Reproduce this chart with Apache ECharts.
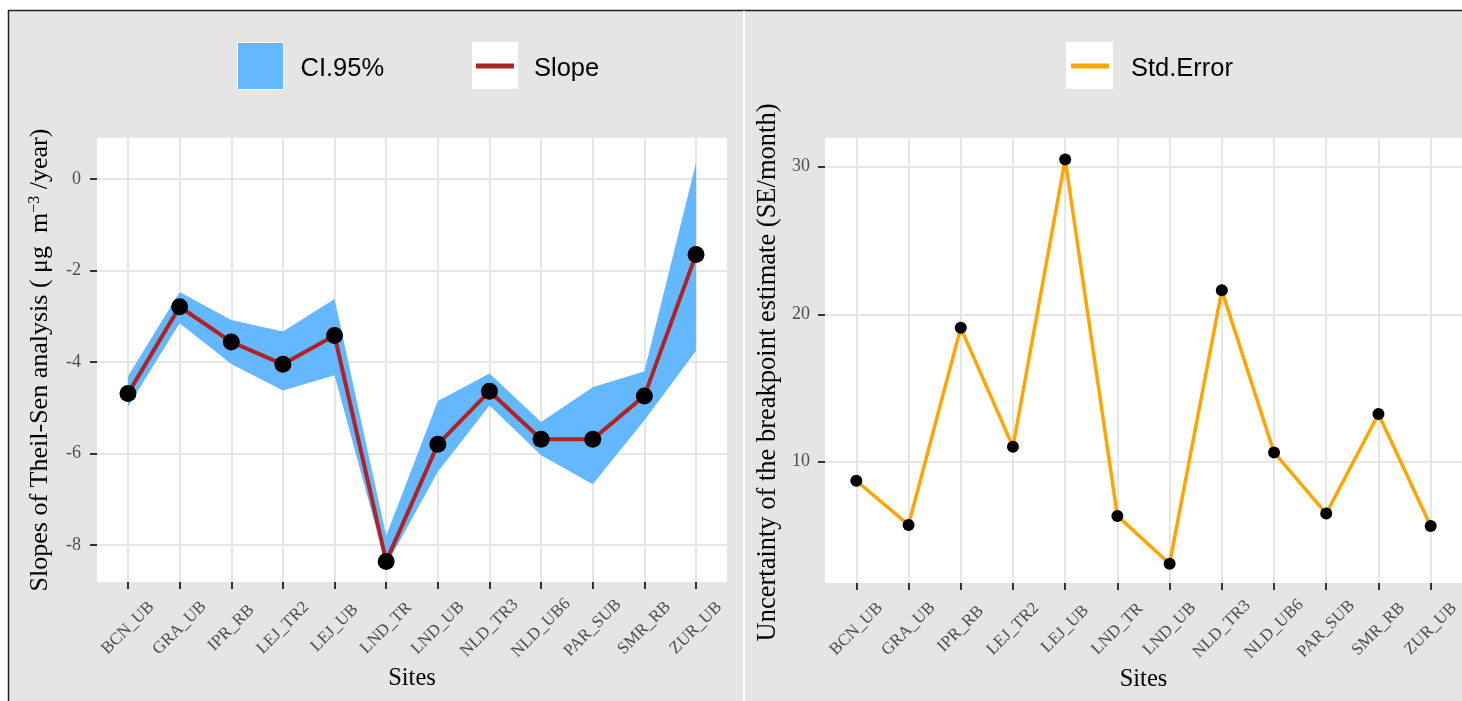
<!DOCTYPE html>
<html>
<head>
<meta charset="utf-8">
<title>Theil-Sen slopes and breakpoint uncertainty by site</title>
<script src="https://cdn.jsdelivr.net/npm/echarts@6/dist/echarts.min.js"></script>
<style>
  html, body { margin: 0; padding: 0; background: #fff; }
  #chart { width: 1462px; height: 701px; }
</style>
</head>
<body>
<div id="chart"></div>
<script>
// Monitoring sites (shared x categories for both panels)
const sites = ['BCN_UB', 'GRA_UB', 'IPR_RB', 'LEJ_TR2', 'LEJ_UB', 'LND_TR',
               'LND_UB', 'NLD_TR3', 'NLD_UB6', 'PAR_SUB', 'SMR_RB', 'ZUR_UB'];

// Theil-Sen slope per site (µg m-3 / year) and its 95% confidence interval
const slope   = [-4.69, -2.79, -3.56, -4.05, -3.42, -8.36, -5.80, -4.64, -5.69, -5.69, -4.74, -1.65];
const ciLower = [-4.98, -3.15, -4.04, -4.62, -4.29, -8.45, -6.40, -4.95, -6.04, -6.67, -5.27, -3.75];
const ciUpper = [-4.31, -2.47, -3.08, -3.33, -2.62, -7.80, -4.85, -4.25, -5.31, -4.55, -4.20,  0.36];

// Standard error of the breakpoint estimate (SE / month)
const stdError = [8.71, 5.72, 19.08, 11.02, 30.50, 6.33, 3.09, 21.62, 10.63, 6.49, 13.24, 5.65];

// Tick values
const siteTicks = sites.map((_, i) => i);
const slopeTicks = [-8, -6, -4, -2, 0];
const seTicks = [10, 20, 30];

const SERIF = "'Liberation Serif', 'Times New Roman', serif";
const SANS = "'Liberation Sans', Arial, sans-serif";
const GRID_COLOR = '#e6e6e6';
const TICK_COLOR = '#333333';
const LABEL_COLOR = '#4d4d4d';

const slopePoints = slope.map((v, i) => [i, v]);
const bandPoints = sites.map((_, i) => [i, ciLower[i], ciUpper[i]]);
const sePoints = stdError.map((v, i) => [i, v]);

function siteAxis(gridIndex) {
  return {
    type: 'value',
    gridIndex: gridIndex,
    min: -0.6,
    max: sites.length - 1 + 0.6,
    name: 'Sites',
    nameLocation: 'middle',
    nameGap: 84,
    nameMoveOverlap: false,
    nameTextStyle: { fontFamily: SERIF, fontSize: 24.5, color: '#000' },
    axisLine: { show: false, onZero: false },
    axisTick: { show: true, length: 7, customValues: siteTicks,
                lineStyle: { color: TICK_COLOR, width: 2 } },
    axisLabel: { customValues: siteTicks, rotate: 45, margin: 46,
                 align: 'center', verticalAlign: 'middle',
                 fontFamily: SERIF, fontSize: 17, color: LABEL_COLOR,
                 formatter: v => sites[Math.round(v)] },
    splitLine: { show: true, lineStyle: { color: GRID_COLOR, width: 2 } }
  };
}

// Confidence band drawn as one polygon through the upper then lower bounds
function renderBand(params, api) {
  if (params.dataIndex !== 0) return null;
  const upper = [], lower = [];
  for (let i = 0; i < bandPoints.length; i++) {
    upper.push(api.coord([bandPoints[i][0], bandPoints[i][2]]));
    lower.push(api.coord([bandPoints[i][0], bandPoints[i][1]]));
  }
  return {
    type: 'polygon',
    shape: { points: upper.concat(lower.reverse()) },
    style: { fill: '#63B8FF', stroke: null }
  };
}

// Legend label: a rich token with extra top padding to sit the caps on the key centre
const legendText = (padLeft) => ({
  padding: [0, 0, 0, padLeft],
  rich: { k: { fontFamily: SANS, fontSize: 25.5, color: '#000', padding: [6, 0, 0, 0] } }
});
const legendFormat = name => '{k|' + name + '}';

const option = {
  backgroundColor: '#e5e5e5',
  animation: false,
  graphic: {
    elements: [
      { type: 'rect', z: 0, shape: { x: 0, y: 0, width: 1462, height: 10 }, style: { fill: '#fff' } },
      { type: 'rect', z: 0, shape: { x: 0, y: 0, width: 8, height: 701 }, style: { fill: '#fff' } },
      { type: 'line', z: 0, shape: { x1: 8, y1: 10.5, x2: 1462, y2: 10.5 }, style: { stroke: '#222', lineWidth: 1.5 } },
      { type: 'line', z: 0, shape: { x1: 8.5, y1: 10, x2: 8.5, y2: 701 }, style: { stroke: '#222', lineWidth: 1.5 } },
      { type: 'rect', z: 0, shape: { x: 743, y: 11, width: 2, height: 690 }, style: { fill: '#fff' } },
      // white key backgrounds for the line legends
      { type: 'rect', z: 0, shape: { x: 472, y: 42, width: 46, height: 47 }, style: { fill: '#fff' } },
      { type: 'rect', z: 0, shape: { x: 1066, y: 42, width: 47, height: 47 }, style: { fill: '#fff' } }
    ]
  },
  legend: [
    {
      z: 10, left: 237, top: 42, padding: 0, itemWidth: 46, itemHeight: 47,
      selectedMode: false, formatter: legendFormat,
      data: [{ name: 'CI.95%', icon: 'rect',
               itemStyle: { color: '#63B8FF', borderColor: '#ffffff', borderWidth: 1 } }],
      textStyle: legendText(12)
    },
    {
      z: 10, left: 476, top: 56, padding: 0, itemWidth: 38, itemHeight: 5,
      selectedMode: false, formatter: legendFormat,
      data: [{ name: 'Slope', icon: 'rect', itemStyle: { color: '#B22222' } }],
      textStyle: legendText(15)
    },
    {
      z: 10, left: 1071, top: 56, padding: 0, itemWidth: 38, itemHeight: 5,
      selectedMode: false, formatter: legendFormat,
      data: [{ name: 'Std.Error', icon: 'rect', itemStyle: { color: '#FFA500' } }],
      textStyle: legendText(17)
    }
  ],
  grid: [
    { left: 97, right: 735, top: 138, bottom: 119, show: true, backgroundColor: '#ffffff',
      borderWidth: 0, outerBoundsMode: 'none', containLabel: false },
    { left: 825, right: 0, top: 138, bottom: 118, show: true, backgroundColor: '#ffffff',
      borderWidth: 0, outerBoundsMode: 'none', containLabel: false }
  ],
  xAxis: [siteAxis(0), siteAxis(1)],
  yAxis: [
    {
      type: 'value', gridIndex: 0, min: -8.81, max: 0.9,
      name: '{t|Slopes of Theil-Sen analysis ( μg  m}{sup|−3}{t| /year)}',
      nameLocation: 'middle', nameGap: 44, nameRotate: 90, nameMoveOverlap: false,
      nameTextStyle: {
        color: '#000',
        rich: {
          t: { fontFamily: SERIF, fontSize: 26, color: '#000' },
          sup: { fontFamily: SERIF, fontSize: 16, color: '#000', verticalAlign: 'top' }
        }
      },
      axisLine: { show: false, onZero: false },
      axisTick: { show: true, length: 7, customValues: slopeTicks,
                  lineStyle: { color: TICK_COLOR, width: 2 } },
      axisLabel: { customValues: slopeTicks, margin: 16, fontFamily: SERIF, fontSize: 18,
                   color: LABEL_COLOR, formatter: v => String(v) },
      splitLine: { show: true, lineStyle: { color: GRID_COLOR, width: 2 } }
    },
    {
      type: 'value', gridIndex: 1, min: 1.78, max: 31.95,
      name: 'Uncertainty of the breakpoint estimate (SE/month)',
      nameLocation: 'middle', nameGap: 43, nameRotate: 90, nameMoveOverlap: false,
      nameTextStyle: { fontFamily: SERIF, fontSize: 26.5, color: '#000', padding: [0, 24, 0, 0] },
      axisLine: { show: false, onZero: false },
      axisTick: { show: true, length: 7, customValues: seTicks,
                  lineStyle: { color: TICK_COLOR, width: 2 } },
      axisLabel: { customValues: seTicks, margin: 15, fontFamily: SERIF, fontSize: 18,
                   color: LABEL_COLOR, formatter: v => String(v) },
      splitLine: { show: true, lineStyle: { color: GRID_COLOR, width: 2 } }
    }
  ],
  series: [
    {
      name: 'CI.95%', type: 'custom', xAxisIndex: 0, yAxisIndex: 0, z: 2,
      renderItem: renderBand,
      itemStyle: { color: '#63B8FF' },
      encode: { x: 0, y: [1, 2] },
      data: bandPoints,
      silent: true
    },
    {
      name: 'Slope', type: 'line', xAxisIndex: 0, yAxisIndex: 0, z: 3,
      data: slopePoints,
      symbol: 'circle', symbolSize: 17,
      itemStyle: { color: '#000' },
      lineStyle: { color: '#B22222', width: 4 },
      silent: true
    },
    {
      name: 'Std.Error', type: 'line', xAxisIndex: 1, yAxisIndex: 1, z: 3,
      data: sePoints,
      symbol: 'circle', symbolSize: 12,
      itemStyle: { color: '#000' },
      lineStyle: { color: '#FFA500', width: 3.5 },
      silent: true
    }
  ]
};

const chart = echarts.init(document.getElementById('chart'), null, { renderer: 'canvas' });
chart.setOption(option);
</script>
</body>
</html>
